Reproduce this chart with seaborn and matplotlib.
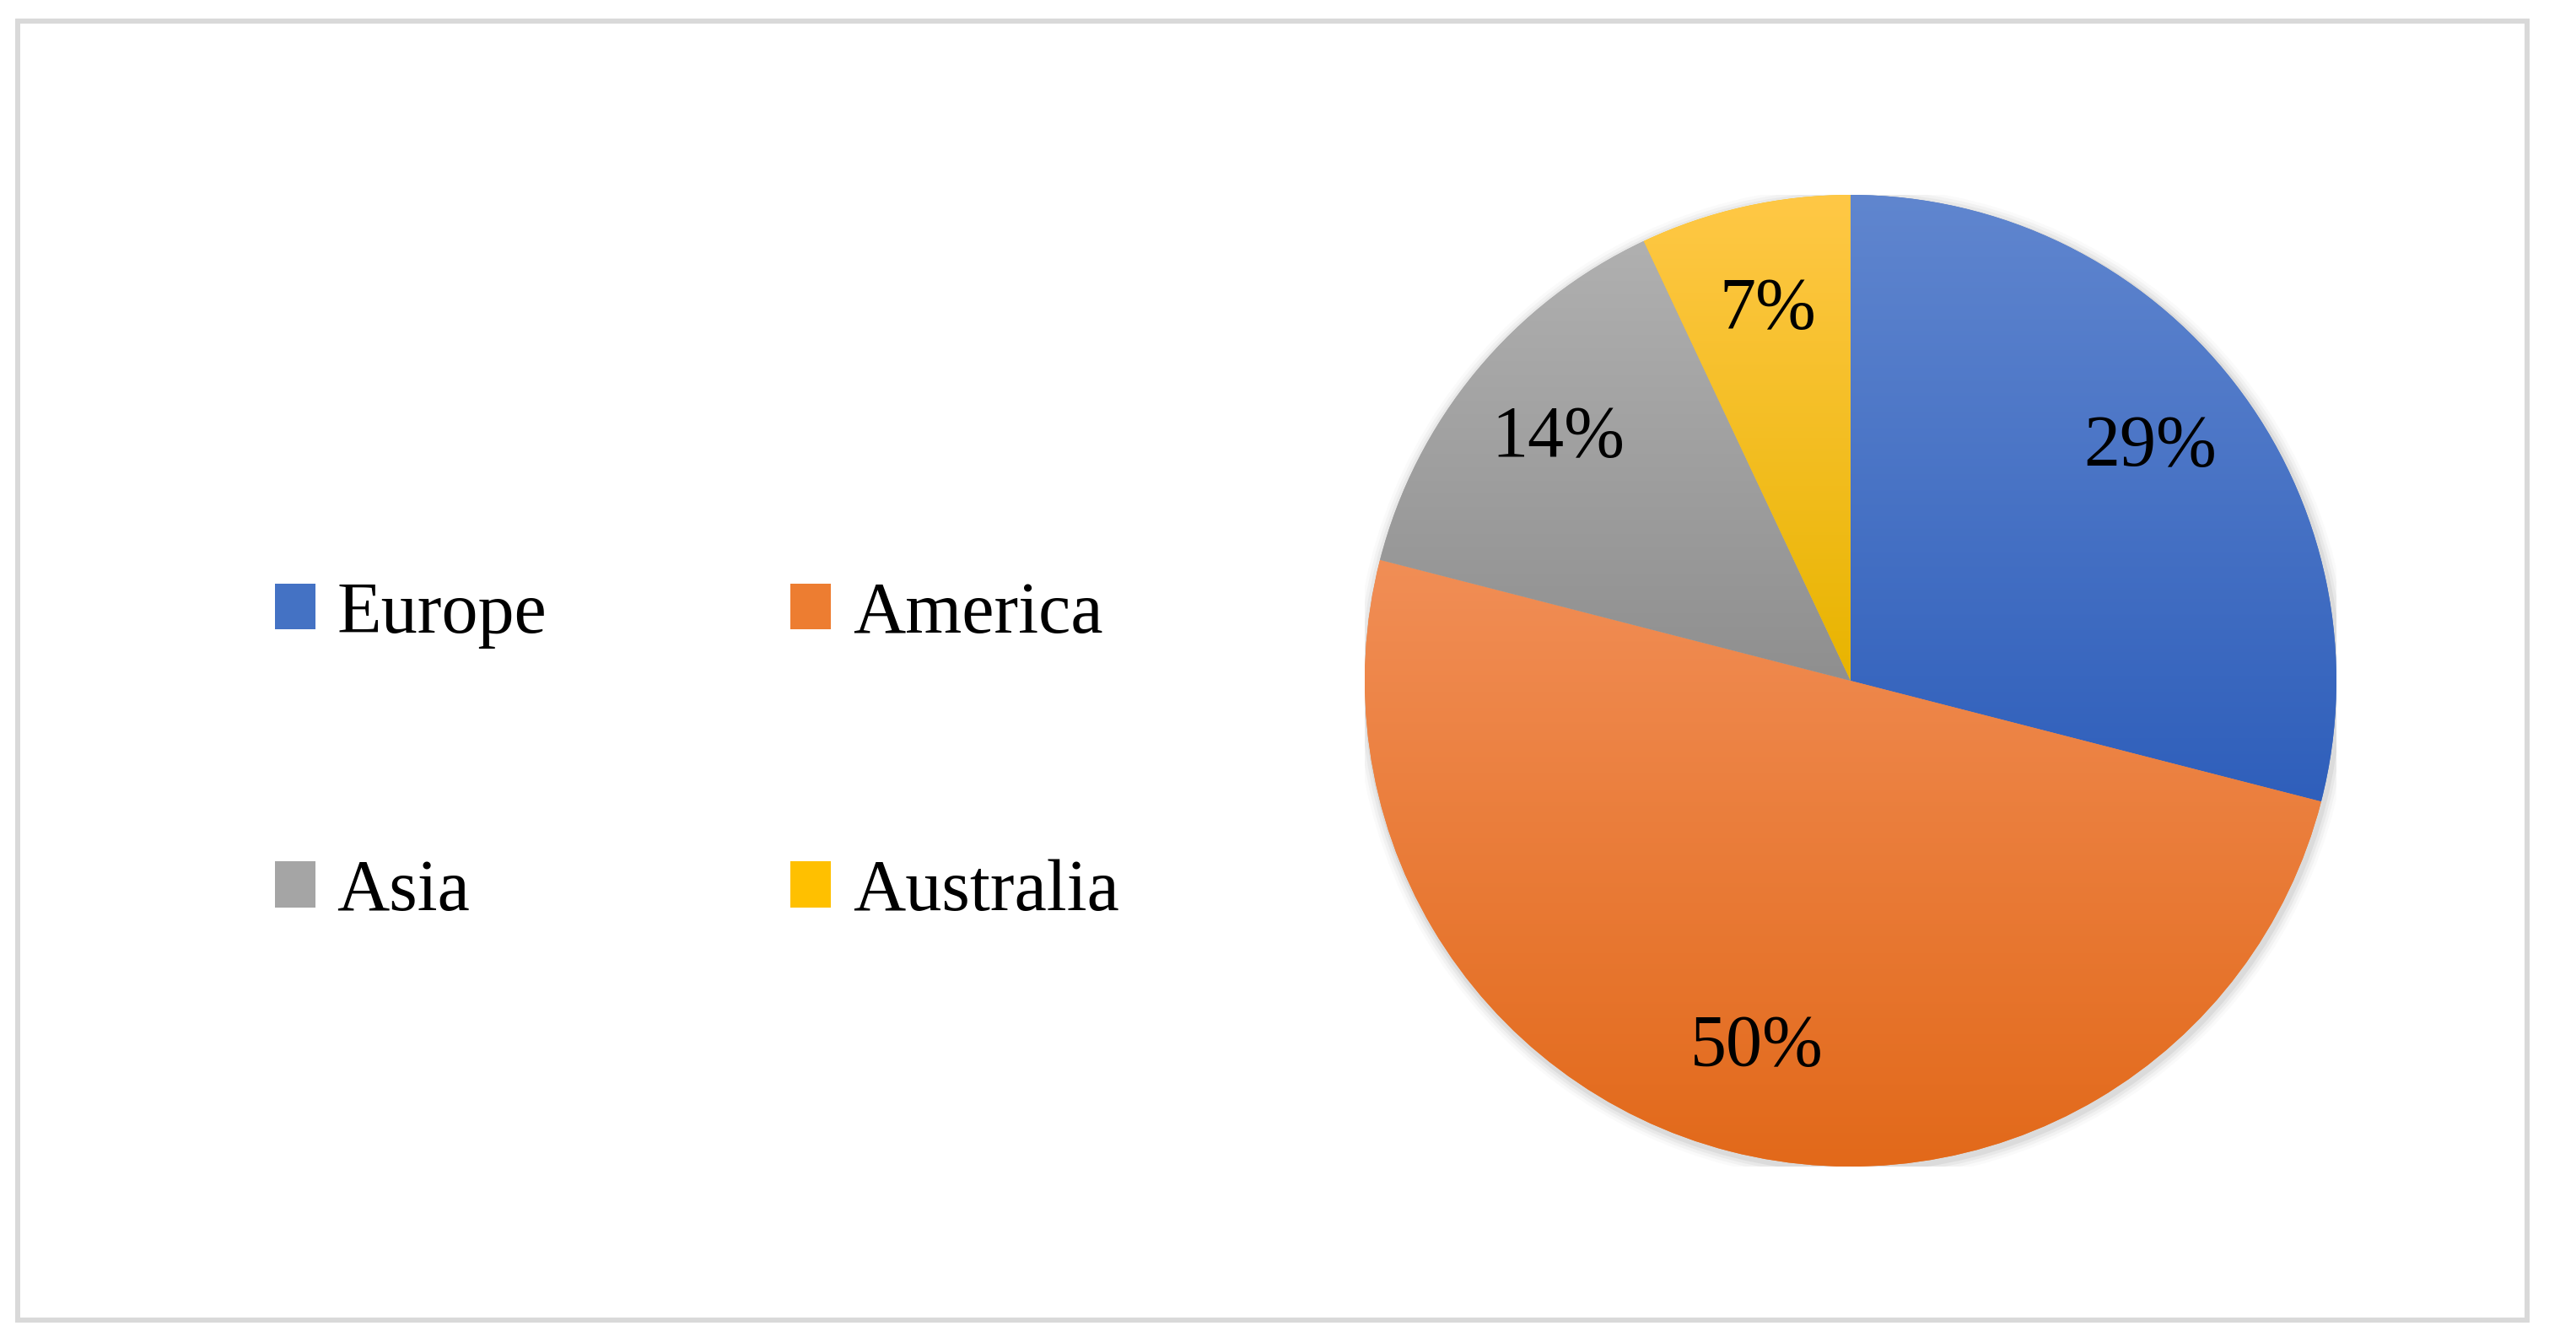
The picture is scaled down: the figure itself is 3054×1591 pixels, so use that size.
import numpy as np
import matplotlib
matplotlib.use("Agg")
import matplotlib.pyplot as plt
from matplotlib.patches import Rectangle, Circle, Patch
from matplotlib.colors import LinearSegmentedColormap
import seaborn as sns

# data
regions = ["Europe", "America", "Asia", "Australia"]
shares = [29, 50, 14, 7]
# gradient colours per slice (top, bottom)
top_colors = ["#6086CF", "#F18E56", "#B0B0B0", "#FFC846"]
bottom_colors = ["#2F5FBB", "#E2691A", "#8F8F8F", "#E8B400"]
mid_colors = ["#4472C4", "#ED7D31", "#A5A5A5", "#FFC000"]

sns.set_theme(style="white")
plt.rcParams['font.family'] = ['Liberation Serif', 'DejaVu Serif']
plt.rcParams['text.color'] = 'black'

fig = plt.figure(figsize=(30.54, 15.91), dpi=100)
fig.patch.set_facecolor("white")

# outer frame
fig.patches.append(Rectangle((0.0069, 0.0163), 0.9741, 0.968, transform=fig.transFigure,
                             fill=False, edgecolor="#D9D9D9", linewidth=4.3, zorder=0))

ax = fig.add_axes([0.5298, 0.1307, 0.3772, 0.7241])

# soft shadow
for i, a in enumerate([0.05, 0.04, 0.03, 0.02]):
    ax.add_patch(Circle((0.004, -0.006), 1.0 + 0.006 * (i + 1), color="black", alpha=a,
                        linewidth=0, zorder=0))

wedges, texts, autotexts = ax.pie(shares, colors=mid_colors, startangle=90, counterclock=False,
                                  autopct='%.0f%%', pctdistance=0.78, radius=1.0,
                                  wedgeprops=dict(linewidth=0),
                                  textprops=dict(fontsize=62, color="black"))

# vertical gradient inside each slice (light at top, dark at bottom)
grad = np.linspace(0, 1, 256).reshape(-1, 1)
for w, c0, c1 in zip(wedges, top_colors, bottom_colors):
    bb = w.get_path().get_extents()
    cmap = LinearSegmentedColormap.from_list("g", [c0, c1])
    im = ax.imshow(grad, cmap=cmap, aspect="auto",
                   extent=[bb.x0, bb.x1, bb.y0, bb.y1], origin="upper", zorder=1)
    im.set_clip_path(w)
for t in autotexts:
    t.set_zorder(3)

ax.set_xlim(-1, 1)
ax.set_ylim(-1, 1)
ax.set_aspect("equal")
ax.axis("off")

# legend: two rows (Europe, America / Asia, Australia), filled column-wise
order = [0, 2, 1, 3]
handles = [Patch(facecolor=mid_colors[i], edgecolor="none") for i in order]
labels = [regions[i] for i in order]
fig.legend(handles, labels, loc="upper left", bbox_to_anchor=(0.0925, 0.594), ncol=2,
           frameon=False, fontsize=62, handlelength=0.56, handleheight=0.6,
           handletextpad=0.3, columnspacing=3.35, labelspacing=2.9, borderpad=0,
           labelcolor="black")

fig.savefig("out.png", dpi=100)
